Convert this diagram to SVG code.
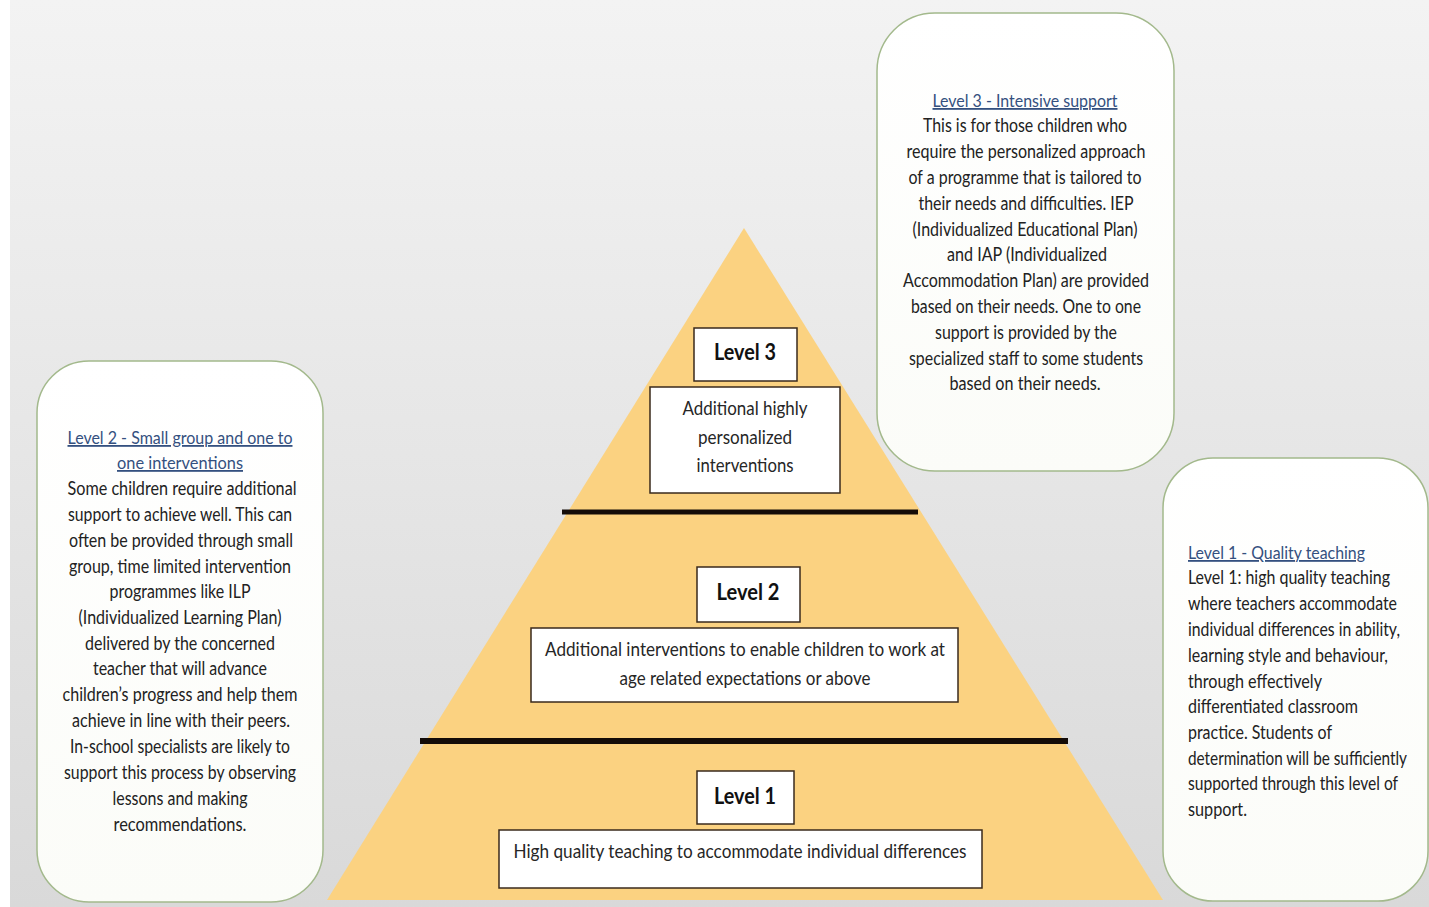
<svg xmlns="http://www.w3.org/2000/svg" width="1429" height="907" viewBox="0 0 1429 907">
<defs>
<linearGradient id="bg" x1="0" y1="0" x2="0" y2="1">
<stop offset="0" stop-color="#f3f3f3"/>
<stop offset="1" stop-color="#d9d9d9"/>
</linearGradient>
<linearGradient id="card" x1="0" y1="0" x2="0" y2="1">
<stop offset="0" stop-color="#ffffff"/>
<stop offset="1" stop-color="#fbfcf8"/>
</linearGradient>
<style>
.card{fill:url(#card);stroke:#a3b98c;stroke-width:1.5}
.lvl{fill:#ffffff;stroke:#3a2a1c;stroke-width:1.5}
.t{font-family:Lato,"Liberation Sans",sans-serif;font-size:18.5px;fill:#222222}
.h{font-family:Lato,"Liberation Sans",sans-serif;font-size:18px;fill:#34507f;text-decoration:underline}
.c{text-anchor:middle}
.lb{font-family:Lato,"Liberation Sans",sans-serif;font-size:22px;font-weight:bold;fill:#111;text-anchor:middle}
.pt{font-family:Lato,"Liberation Sans",sans-serif;font-size:19px;fill:#262626;text-anchor:middle}
.div{stroke:#140c08;fill:none}
</style>
</defs>
<rect x="0" y="0" width="1429" height="907" fill="#ffffff"/>
<rect x="10" y="0" width="1419" height="907" fill="url(#bg)"/>

<g id="pyramid">
<polygon points="744,228 1163,900 327,900" fill="#fbd281"/>
</g>

<g id="connectors">
<line class="div" x1="562" y1="512" x2="918" y2="512" stroke-width="5"/>
<line class="div" x1="420" y1="741" x2="1068" y2="741" stroke-width="6"/>
</g>

<g id="level3-node">
<rect class="lvl" x="694" y="328" width="103" height="53"/>
<text class="lb" x="745" y="360" textLength="62" lengthAdjust="spacingAndGlyphs">Level 3</text>
<rect class="lvl" x="650" y="387" width="190" height="106"/>
<text class="pt" x="745" y="415" textLength="125" lengthAdjust="spacingAndGlyphs">Additional highly</text>
<text class="pt" x="745" y="444" textLength="94" lengthAdjust="spacingAndGlyphs">personalized</text>
<text class="pt" x="745" y="472" textLength="97" lengthAdjust="spacingAndGlyphs">interventions</text>
</g>

<g id="level2-node">
<rect class="lvl" x="697" y="567" width="103" height="55"/>
<text class="lb" x="748" y="600" textLength="63" lengthAdjust="spacingAndGlyphs">Level 2</text>
<rect class="lvl" x="531" y="628" width="427" height="74"/>
<text class="pt" x="745" y="656" textLength="400" lengthAdjust="spacingAndGlyphs">Additional interventions to enable children to work at</text>
<text class="pt" x="745" y="685" textLength="251" lengthAdjust="spacingAndGlyphs">age related expectations or above</text>
</g>

<g id="level1-node">
<rect class="lvl" x="697" y="771" width="97" height="53"/>
<text class="lb" x="745" y="804" textLength="62" lengthAdjust="spacingAndGlyphs">Level 1</text>
<rect class="lvl" x="499" y="830" width="483" height="58"/>
<text class="pt" x="740" y="858" textLength="453" lengthAdjust="spacingAndGlyphs">High quality teaching to accommodate individual differences</text>
</g>

<g id="level2-card">
<rect class="card" x="37" y="361" width="286" height="541" rx="52" ry="52"/>
<text class="h c" x="180" y="444" textLength="225" lengthAdjust="spacingAndGlyphs">Level 2 - Small group and one to</text>
<text class="h c" x="180" y="469" textLength="126" lengthAdjust="spacingAndGlyphs">one interventions</text>
<text class="t c" x="182" y="495" textLength="229" lengthAdjust="spacingAndGlyphs">Some children require additional</text>
<text class="t c" x="180" y="521" textLength="224" lengthAdjust="spacingAndGlyphs">support to achieve well. This can</text>
<text class="t c" x="181" y="547" textLength="224" lengthAdjust="spacingAndGlyphs">often be provided through small</text>
<text class="t c" x="180" y="573" textLength="222" lengthAdjust="spacingAndGlyphs">group, time limited intervention</text>
<text class="t c" x="180" y="598" textLength="141" lengthAdjust="spacingAndGlyphs">programmes like ILP</text>
<text class="t c" x="180" y="624" textLength="203" lengthAdjust="spacingAndGlyphs">(Individualized Learning Plan)</text>
<text class="t c" x="180" y="650" textLength="190" lengthAdjust="spacingAndGlyphs">delivered by the concerned</text>
<text class="t c" x="180" y="675" textLength="174" lengthAdjust="spacingAndGlyphs">teacher that will advance</text>
<text class="t c" x="180" y="701" textLength="235" lengthAdjust="spacingAndGlyphs">children’s progress and help them</text>
<text class="t c" x="181" y="727" textLength="218" lengthAdjust="spacingAndGlyphs">achieve in line with their peers.</text>
<text class="t c" x="180" y="753" textLength="220" lengthAdjust="spacingAndGlyphs">In-school specialists are likely to</text>
<text class="t c" x="180" y="779" textLength="232" lengthAdjust="spacingAndGlyphs">support this process by observing</text>
<text class="t c" x="180" y="805" textLength="135" lengthAdjust="spacingAndGlyphs">lessons and making</text>
<text class="t c" x="180" y="831" textLength="133" lengthAdjust="spacingAndGlyphs">recommendations.</text>
</g>

<g id="level3-card">
<rect class="card" x="877" y="13" width="297" height="458" rx="58" ry="58"/>
<text class="h c" x="1025" y="107" textLength="185" lengthAdjust="spacingAndGlyphs">Level 3 - Intensive support</text>
<text class="t c" x="1025" y="132" textLength="204" lengthAdjust="spacingAndGlyphs">This is for those children who</text>
<text class="t c" x="1026" y="158" textLength="239" lengthAdjust="spacingAndGlyphs">require the personalized approach</text>
<text class="t c" x="1025" y="184" textLength="233" lengthAdjust="spacingAndGlyphs">of a  programme that is tailored to</text>
<text class="t c" x="1026" y="210" textLength="215" lengthAdjust="spacingAndGlyphs">their needs and difficulties. IEP</text>
<text class="t c" x="1025" y="236" textLength="225" lengthAdjust="spacingAndGlyphs">(Individualized Educational Plan)</text>
<text class="t c" x="1027" y="261" textLength="160" lengthAdjust="spacingAndGlyphs">and IAP (Individualized</text>
<text class="t c" x="1026" y="287" textLength="246" lengthAdjust="spacingAndGlyphs">Accommodation Plan) are provided</text>
<text class="t c" x="1026" y="313" textLength="230" lengthAdjust="spacingAndGlyphs">based on their needs. One to one</text>
<text class="t c" x="1026" y="339" textLength="182" lengthAdjust="spacingAndGlyphs">support is provided by the</text>
<text class="t c" x="1026" y="365" textLength="234" lengthAdjust="spacingAndGlyphs">specialized staff to some students</text>
<text class="t c" x="1025" y="390" textLength="151" lengthAdjust="spacingAndGlyphs">based on their needs.</text>
</g>

<g id="level1-card">
<rect class="card" x="1163" y="458" width="265" height="443" rx="50" ry="50"/>
<text class="h" x="1188" y="559" textLength="177" lengthAdjust="spacingAndGlyphs">Level 1 - Quality teaching</text>
<text class="t" x="1188" y="584" textLength="202" lengthAdjust="spacingAndGlyphs">Level 1: high quality teaching</text>
<text class="t" x="1188" y="610" textLength="209" lengthAdjust="spacingAndGlyphs">where teachers accommodate</text>
<text class="t" x="1188" y="636" textLength="212" lengthAdjust="spacingAndGlyphs">individual differences in ability,</text>
<text class="t" x="1188" y="662" textLength="200" lengthAdjust="spacingAndGlyphs">learning style and behaviour,</text>
<text class="t" x="1188" y="688" textLength="134" lengthAdjust="spacingAndGlyphs">through effectively</text>
<text class="t" x="1188" y="713" textLength="170" lengthAdjust="spacingAndGlyphs">differentiated classroom</text>
<text class="t" x="1188" y="739" textLength="144" lengthAdjust="spacingAndGlyphs">practice. Students of</text>
<text class="t" x="1188" y="765" textLength="219" lengthAdjust="spacingAndGlyphs">determination will be sufficiently</text>
<text class="t" x="1188" y="790" textLength="210" lengthAdjust="spacingAndGlyphs">supported through this level of</text>
<text class="t" x="1188" y="816" textLength="59" lengthAdjust="spacingAndGlyphs">support.</text>
</g>
</svg>
